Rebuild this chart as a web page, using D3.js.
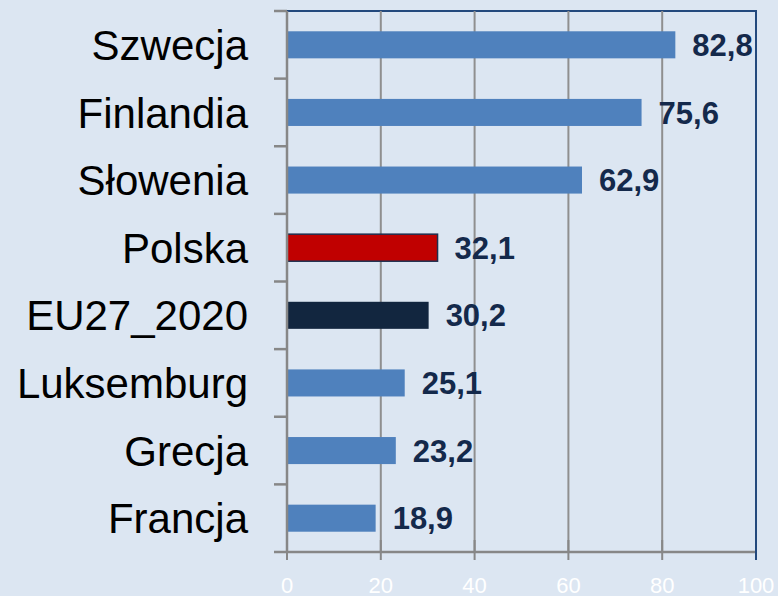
<!DOCTYPE html>
<html>
<head>
<meta charset="utf-8">
<script src="https://cdn.jsdelivr.net/npm/d3@7"></script>
<style>
  body { margin: 0; background: #dce6f2; }
  svg { display: block; font-family: Arial, "Liberation Sans", sans-serif; }
  .cat { font-size: 42px; fill: #000; }
  .val { font-size: 31px; font-weight: bold; fill: #14294b; }
  .xtick { font-size: 22px; fill: #ffffff; }
</style>
</head>
<body>
<div id="chart"></div>
<script>
var countries = ['Szwecja', 'Finlandia', 'Słowenia', 'Polska', 'EU27_2020', 'Luksemburg', 'Grecja', 'Francja'];
var values = [82.8, 75.6, 62.9, 32.1, 30.2, 25.1, 23.2, 18.9];
var xTicks = [0, 20, 40, 60, 80, 100];

var W = 778, H = 596;
var margin = { top: 11, left: 287, bottom: 44, right: 22 },
    width = W - margin.left - margin.right,
    height = H - margin.top - margin.bottom;

var data = countries.map((c, i) => ({ country: c, value: values[i] }));

var svg = d3.select('#chart').append('svg')
    .attr('width', W)
    .attr('height', H);

svg.append('rect')
    .attr('width', W).attr('height', H)
    .attr('fill', '#dce6f2');

var g = svg.append('g')
    .attr('transform', 'translate(' + margin.left + ',' + margin.top + ')');

var x = d3.scaleLinear().domain([0, 100]).range([0, width]);
var y = d3.scaleBand().domain(countries).range([0, height])
    .paddingInner(0.6).paddingOuter(0.3);

// plot border (top / right)
g.append('path')
    .attr('d', 'M0,0H' + width + 'V' + height)
    .attr('fill', 'none')
    .attr('stroke', '#23497d')
    .attr('stroke-width', 2);

// gridlines
g.selectAll('.grid')
    .data(xTicks.slice(1, -1))
    .enter().append('line')
    .attr('class', 'grid')
    .attr('x1', d => x(d)).attr('x2', d => x(d))
    .attr('y1', 0).attr('y2', height)
    .attr('stroke', '#8f8f8f')
    .attr('stroke-width', 2);

// bars
function barColor(d) {
    if (d.country === 'Polska') return '#c00000';
    if (d.country === 'EU27_2020') return '#12263f';
    return '#4f81bd';
}

g.selectAll('.bar')
    .data(data)
    .enter().append('rect')
    .attr('class', 'bar')
    .attr('x', x(0))
    .attr('y', d => y(d.country))
    .attr('width', d => x(d.value) - x(0))
    .attr('height', y.bandwidth())
    .attr('fill', barColor)
    .attr('stroke', d => d.country === 'Polska' ? '#1f2f4f' : 'none')
    .attr('stroke-width', 1.5);

// value labels
g.selectAll('.val')
    .data(data)
    .enter().append('text')
    .attr('class', 'val')
    .attr('x', d => x(d.value) + 17)
    .attr('y', d => y(d.country) + y.bandwidth() / 2)
    .attr('dy', '0.36em')
    .text(d => d3.format('.1f')(d.value).replace('.', ','));

// x axis
var xAxis = g.append('g')
    .attr('transform', 'translate(0,' + height + ')');
xAxis.append('line')
    .attr('x1', 0).attr('x2', width)
    .attr('stroke', '#878787').attr('stroke-width', 2.5);
xAxis.selectAll('.xt')
    .data(xTicks)
    .enter().append('line')
    .attr('x1', d => x(d)).attr('x2', d => x(d))
    .attr('y1', -12).attr('y2', 8)
    .attr('stroke', d => d === 100 ? '#23497d' : '#878787')
    .attr('stroke-width', 2);
xAxis.selectAll('.xtick')
    .data(xTicks)
    .enter().append('text')
    .attr('class', 'xtick')
    .attr('x', d => x(d))
    .attr('y', 41)
    .attr('text-anchor', 'middle')
    .text(d => d);

// y axis
var yAxis = g.append('g');
var bounds = d3.range(countries.length + 1).map(i => i * y.step());
yAxis.selectAll('.yt')
    .data(bounds)
    .enter().append('line')
    .attr('x1', -13).attr('x2', 0)
    .attr('y1', d => d).attr('y2', d => d)
    .attr('stroke', '#878787')
    .attr('stroke-width', 2.5);
yAxis.append('line')
    .attr('x1', 0).attr('x2', 0)
    .attr('y1', 0).attr('y2', height)
    .attr('stroke', '#878787')
    .attr('stroke-width', 2.5);

yAxis.selectAll('.cat')
    .data(countries)
    .enter().append('text')
    .attr('class', 'cat')
    .attr('x', -39)
    .attr('y', d => y(d) + y.bandwidth() / 2)
    .attr('dy', '0.36em')
    .attr('text-anchor', 'end')
    .text(d => d);
</script>
</body>
</html>
